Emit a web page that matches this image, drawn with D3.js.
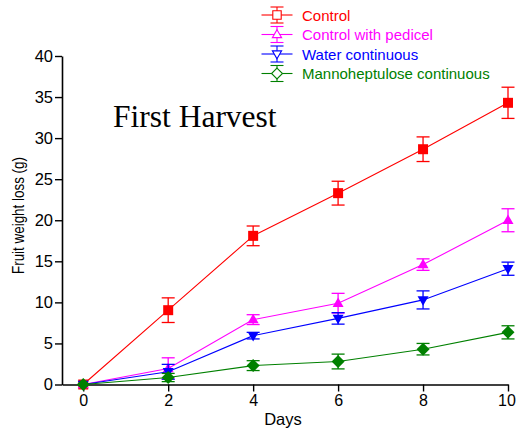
<!DOCTYPE html>
<html><head><meta charset="utf-8">
<script src="https://cdn.jsdelivr.net/npm/d3@7"></script>
<style>body{margin:0;background:#fff}svg{display:block}</style>
</head><body>
<script>
const days = [0, 2, 4, 6, 8, 10];
const seriesNames = ["Control", "Control with pedicel", "Water continuous", "Mannoheptulose continuous"];
const controlMean = [0, 9.05, 18.1, 23.3, 28.65, 34.3];
const controlErr  = [0.3, 1.5, 1.2, 1.45, 1.5, 1.9];
const pedicelMean = [0, 1.95, 7.9, 9.9, 14.6, 20.0];
const pedicelErr  = [0.3, 1.3, 0.6, 1.2, 0.7, 1.4];
const waterMean   = [0, 1.55, 5.95, 8.05, 10.3, 14.1];
const waterErr    = [0.3, 0.9, 0.4, 0.7, 1.1, 0.8];
const mannoMean   = [0, 0.85, 2.3, 2.8, 4.3, 6.35];
const mannoErr    = [0.3, 0.5, 0.6, 0.9, 0.7, 0.8];
const yTicks = [0, 5, 10, 15, 20, 25, 30, 35, 40];
const xTicks = [0, 2, 4, 6, 8, 10];
const colors = ["#ff0000", "#ff00ff", "#0000ff", "#008000"];
const shapes = ["square", "triangle", "triangleDown", "diamond"];

const W = 516, H = 433;
const svg = d3.select("body").append("svg").attr("width", W).attr("height", H);
const x = d3.scaleLinear().domain([-0.5, 10]).range([62, 508]);
const y = d3.scaleLinear().domain([0, 40]).range([384.5, 56]);

const series = [
  {name: seriesNames[0], mean: controlMean, err: controlErr},
  {name: seriesNames[1], mean: pedicelMean, err: pedicelErr},
  {name: seriesNames[2], mean: waterMean, err: waterErr},
  {name: seriesNames[3], mean: mannoMean, err: mannoErr}
];

function markerPath(shape, s) {
  if (shape === "square") return `M${-s},${-s}H${s}V${s}H${-s}Z`;
  if (shape === "triangle") return `M0,${-s*1.15}L${s*1.1},${s*0.75}L${-s*1.1},${s*0.75}Z`;
  if (shape === "triangleDown") return `M0,${s*1.15}L${s*1.1},${-s*0.75}L${-s*1.1},${-s*0.75}Z`;
  return `M0,${-s*1.3}L${s*1.3},0L0,${s*1.3}L${-s*1.3},0Z`;
}

// axes
const fontAxis = "Liberation Sans, Arial, sans-serif";
const yAxis = svg.append("g").attr("transform", "translate(62,0)")
  .call(d3.axisLeft(y).tickValues(yTicks).tickSize(7).tickSizeOuter(0));
const xAxis = svg.append("g").attr("transform", "translate(0,384.5)")
  .call(d3.axisBottom(x).tickValues(xTicks).tickSize(7).tickSizeOuter(0));
[yAxis, xAxis].forEach(g => {
  g.select(".domain").attr("stroke", "#000").attr("stroke-width", 1.6);
  g.selectAll(".tick line").attr("stroke", "#000").attr("stroke-width", 1.4);
  g.selectAll(".tick text").attr("font-family", fontAxis).attr("fill", "#000");
});
yAxis.selectAll(".tick text").attr("x", -9).attr("font-size", 16.5);
xAxis.selectAll(".tick text").attr("y", 10).attr("font-size", 16)
  .attr("dx", d => d === 10 ? -1.5 : 0);

svg.append("text").attr("transform", "translate(24,215.5) rotate(-90)")
  .attr("text-anchor", "middle").attr("font-family", fontAxis).attr("font-size", 17)
  .attr("textLength", 117).attr("lengthAdjust", "spacingAndGlyphs")
  .text("Fruit weight loss (g)");
svg.append("text").attr("x", 283).attr("y", 425)
  .attr("text-anchor", "middle").attr("font-family", fontAxis).attr("font-size", 16.5)
  .text("Days");

svg.append("text").attr("x", 113).attr("y", 127)
  .attr("font-family", "Liberation Serif, Times New Roman, serif").attr("font-size", 31.5)
  .text("First Harvest");

// series
const line = d3.line().x(d => x(d.d)).y(d => y(d.v));
series.forEach((s, i) => {
  const pts = days.map((d, j) => ({d, v: s.mean[j], e: s.err[j]}));
  const g = svg.append("g");
  g.append("path").datum(pts).attr("d", line).attr("fill", "none")
    .attr("stroke", colors[i]).attr("stroke-width", 1.1);
  pts.forEach(p => {
    if (p.d === 0) return;
    const eg = g.append("g").attr("stroke", colors[i]).attr("stroke-width", 1.3);
    eg.append("line").attr("x1", x(p.d)).attr("x2", x(p.d)).attr("y1", y(p.v - p.e)).attr("y2", y(p.v + p.e));
    [p.v - p.e, p.v + p.e].forEach(v =>
      eg.append("line").attr("x1", x(p.d) - 6.5).attr("x2", x(p.d) + 6.5).attr("y1", y(v)).attr("y2", y(v)));
  });
  g.selectAll("path.m").data(pts).join("path").attr("class", "m")
    .attr("transform", p => `translate(${x(p.d)},${y(p.v)})`)
    .attr("d", markerPath(shapes[i], 5)).attr("fill", colors[i]);
});

// legend
const lg = svg.append("g");
series.forEach((s, i) => {
  const cy = 15 + i * 19.5;
  const g = lg.append("g").attr("transform", `translate(277,${cy})`);
  g.append("line").attr("x1", -15.5).attr("x2", 15.5).attr("stroke", colors[i]).attr("stroke-width", 1.1);
  g.append("line").attr("y1", -8).attr("y2", 8).attr("stroke", colors[i]).attr("stroke-width", 1.1);
  [-8, 8].forEach(v => g.append("line").attr("x1", -6.5).attr("x2", 6.5).attr("y1", v).attr("y2", v)
    .attr("stroke", colors[i]).attr("stroke-width", 1.1));
  g.append("path").attr("d", markerPath(shapes[i], 4.2)).attr("fill", "#fff")
    .attr("stroke", colors[i]).attr("stroke-width", 1.1);
  lg.append("text").attr("x", 302).attr("y", cy + 5.5).attr("font-family", fontAxis)
    .attr("font-size", 15).attr("fill", colors[i]).text(s.name);
});
</script>
</body></html>
